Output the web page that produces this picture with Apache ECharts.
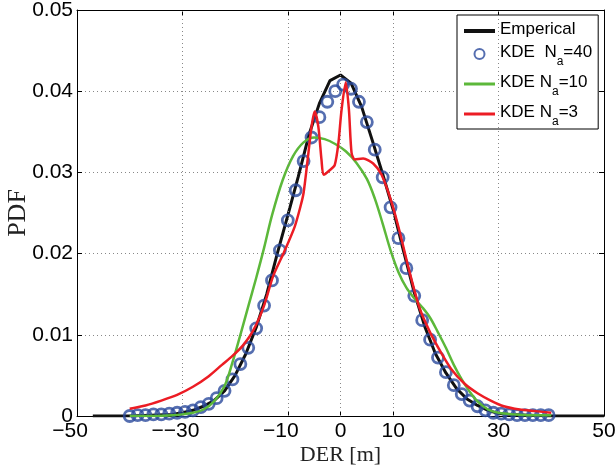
<!DOCTYPE html>
<html><head><meta charset="utf-8">
<script src="https://cdn.jsdelivr.net/npm/echarts@6/dist/echarts.min.js"></script>
<style>html,body{margin:0;padding:0;background:#fff}#c{width:616px;height:469px}</style>
</head><body><div id="c"></div>
<script>
const xTicks = [-50, -30, -10, 0, 10, 30, 50];
const xTickLabels = ['\u221250', '\u2212\u221230', '\u221210', '0', '10', '30', '50'];
const xGrid = [-30, -10, 0, 10, 30];
const yTicks = [0, 0.01, 0.02, 0.03, 0.04, 0.05];
const seriesNames = ['Emperical', 'KDE  N_a=40', 'KDE N_a=10', 'KDE N_a=3'];

const empX = [-47,-40,-36,-32,-30,-28,-26,-24,-22,-20,-18,-16,-14,-12,-10,-8,-6,-4,-2,0,2,4,6,8,10,12,14,16,18,20,22,24,26,28,30,32,36,40,50];
const empY = [0,0,0.0001,0.0002,0.0004,0.0007,0.0012,0.0019,0.0031,0.0050,0.0076,0.0109,0.0150,0.0200,0.0247,0.0295,0.0346,0.0385,0.0413,0.0420,0.0410,0.0381,0.0340,0.0298,0.0254,0.0202,0.0152,0.0110,0.0077,0.0053,0.0034,0.0021,0.0013,0.0007,0.0003,0.0002,0.0001,0,0];

const kde40X = [-40,-38.5,-37,-35.5,-34,-32.5,-31,-29.5,-28,-26.5,-25,-23.5,-22,-20.5,-19,-17.5,-16,-14.5,-13,-11.5,-10,-8.5,-7,-5.5,-4,-2.5,-1,0.5,2,3.5,5,6.5,8,9.5,11,12.5,14,15.5,17,18.5,20,21.5,23,24.5,26,27.5,29,30.5,32,33.5,35,36.5,38,39.5];
const kde40Y = [0.0000,0.0001,0.0001,0.0002,0.0002,0.0003,0.0004,0.0005,0.0007,0.0011,0.0015,0.0022,0.0031,0.0045,0.0064,0.0084,0.0108,0.0136,0.0167,0.0204,0.0241,0.0278,0.0314,0.0343,0.0368,0.0387,0.0400,0.0408,0.0403,0.0387,0.0362,0.0328,0.0294,0.0257,0.0219,0.0182,0.0148,0.0118,0.0094,0.0072,0.0054,0.0038,0.0027,0.0019,0.0012,0.0007,0.0004,0.0003,0.0002,0.0001,0.0001,0.0001,0.0001,0.0001];

const kde10X = [-40,-36,-32,-30,-28,-26,-24,-22,-20.5,-19,-17.5,-16,-14.5,-13,-11,-9,-7,-5,-3,-1,1,3,5,6.5,8,9.5,11,12.5,14,15.5,17,18.5,20,21.5,23,24.5,26,28,30,33,36,40];
const kde10Y = [0,0,0.0001,0.0002,0.0004,0.0008,0.0018,0.0037,0.0066,0.0100,0.0135,0.0170,0.0207,0.0247,0.0290,0.0320,0.0337,0.0343,0.0341,0.0335,0.0326,0.0312,0.0292,0.0268,0.0237,0.0204,0.0177,0.0158,0.0145,0.0134,0.0121,0.0103,0.0084,0.0063,0.0045,0.0030,0.0018,0.0008,0.0004,0.0002,0.0001,0.0001];

const kde3X = [-40,-37,-34,-31,-28,-25,-22.5,-20.5,-18.5,-16.5,-14.5,-12.8,-10.7,-8.7,-7.6,-7.0,-6.3,-5.5,-4.9,-4.2,-3.6,-3.2,-2.0,-1.1,-0.4,0.2,1.0,1.6,2.1,2.7,4.3,6.2,7.8,9.7,11.3,13,15,17,19,21,23.5,26,28.5,31,34,37,40];
const kde3Y = [0.0009,0.0013,0.0019,0.0026,0.0036,0.0049,0.0063,0.0074,0.0087,0.0106,0.0136,0.0172,0.0202,0.0233,0.0258,0.0275,0.0312,0.0356,0.0375,0.0356,0.0315,0.0297,0.0303,0.0309,0.0336,0.0377,0.0411,0.0377,0.0324,0.0316,0.0317,0.0311,0.0297,0.0263,0.0225,0.0180,0.0133,0.0103,0.0079,0.0058,0.0040,0.0028,0.0019,0.0012,0.0008,0.0006,0.0004];

const pairs = (xs, ys) => xs.map((x, i) => [x, ys[i]]);
const chart = echarts.init(document.getElementById('c'), null, {renderer: 'canvas'});
const sans = 'Liberation Sans, Arial, sans-serif';
const serif = 'Liberation Serif, Times New Roman, serif';
const gridStyle = {color: '#888', type: [1, 3], width: 1};
const lineIcon4 = 'path://M0,0h31v0.01h-31z M0,3h31v4h-31z M0,9.99h31v0.01h-31z';
const lineIcon3 = 'path://M0,0h31v0.01h-31z M0,3.5h31v3h-31z M0,9.99h31v0.01h-31z';
const blue = '#2b4a9c';

chart.setOption({
  animation: false,
  backgroundColor: '#fff',
  grid: {left: 77, right: 12, top: 10, bottom: 53, containLabel: false, outerBoundsMode: 'none'},
  legend: {
    left: 457, top: 15, orient: 'vertical',
    padding: [6, 6, 1, 7], itemGap: 6, itemWidth: 31, itemHeight: 10,
    backgroundColor: '#fff', borderColor: '#000', borderWidth: 1,
    data: [
      {name: seriesNames[0], icon: lineIcon4},
      {name: seriesNames[1], icon: 'circle'},
      {name: seriesNames[2], icon: lineIcon3},
      {name: seriesNames[3], icon: lineIcon3}
    ],
    formatter: n => n.indexOf('_a') >= 0 ? '{m|' + n.replace('_a', '}{sub|a}{m|') + '}' : '{m|' + n + '}',
    textStyle: {
      fontFamily: sans, fontSize: 17, color: '#000',
      rich: {
        m: {fontFamily: sans, fontSize: 17, color: '#000', lineHeight: 20, verticalAlign: 'top'},
        sub: {fontFamily: sans, fontSize: 12, color: '#000', lineHeight: 12, padding: [12, 0, 0, 0], verticalAlign: 'top'}
      }
    }
  },
  xAxis: [{
    type: 'value', min: -50, max: 50, interval: 10, position: 'bottom',
    name: 'DER [m]', nameLocation: 'middle', nameGap: 28, nameMoveOverlap: false,
    nameTextStyle: {fontFamily: serif, fontSize: 22, color: '#222'},
    axisLine: {show: true, onZero: false, lineStyle: {color: '#000', width: 1}},
    axisTick: {show: true, inside: true, length: 5, customValues: xTicks, lineStyle: {color: '#000'}},
    axisLabel: {
      show: true, customValues: xTicks, margin: 5, fontFamily: sans, fontSize: 21, color: '#000',
      formatter: v => {
        const i = xTicks.indexOf(v);
        const s = i >= 0 ? xTickLabels[i] : '';
        return s.charAt(0) === '\u2212' ? s + '{pad| }' : s;
      },
      rich: {pad: {width: 14}}
    },
    splitLine: {show: false}
  }, {
    type: 'value', min: -50, max: 50, interval: 10, position: 'top',
    axisLine: {show: true, onZero: false, lineStyle: {color: '#000', width: 1}},
    axisTick: {show: true, inside: true, length: 5, customValues: xTicks, lineStyle: {color: '#000'}},
    axisLabel: {show: false},
    splitLine: {show: false}
  }],
  yAxis: [{
    type: 'value', min: 0, max: 0.05, interval: 0.01, position: 'left',
    name: 'PDF', nameLocation: 'middle', nameGap: 46, nameMoveOverlap: false,
    nameTextStyle: {fontFamily: serif, fontSize: 26, color: '#222'},
    axisLine: {show: true, onZero: false, lineStyle: {color: '#000', width: 1}},
    axisTick: {show: true, inside: true, length: 5, lineStyle: {color: '#000'}},
    axisLabel: {show: true, margin: 4, fontFamily: sans, fontSize: 21, color: '#000',
      formatter: v => String(+v.toFixed(2))},
    splitLine: {show: true, lineStyle: gridStyle}
  }, {
    type: 'value', min: 0, max: 0.05, interval: 0.01, position: 'right',
    axisLine: {show: true, onZero: false, lineStyle: {color: '#000', width: 1}},
    axisTick: {show: true, inside: true, length: 5, lineStyle: {color: '#000'}},
    axisLabel: {show: false},
    splitLine: {show: false}
  }],
  series: [
    {name: 'grid', type: 'line', data: [], z: 1, silent: true,
     markLine: {silent: true, symbol: 'none', label: {show: false}, animation: false,
       lineStyle: gridStyle, data: xGrid.map(v => ({xAxis: v}))}},
    {name: seriesNames[0], type: 'line', data: pairs(empX, empY), symbol: 'none', smooth: false,
     lineStyle: {color: '#111', width: 3}, itemStyle: {color: '#111'}, z: 2},
    {name: seriesNames[1], type: 'scatter', data: pairs(kde40X, kde40Y), symbol: 'circle', symbolSize: 11,
     itemStyle: {color: 'rgba(0,0,0,0)', borderColor: blue, borderWidth: 2.8}, z: 3},
    {name: seriesNames[2], type: 'line', data: pairs(kde10X, kde10Y), symbol: 'none', smooth: 0.35,
     lineStyle: {color: '#5cb83a', width: 2.5}, itemStyle: {color: '#5cb83a'}, z: 4},
    {name: seriesNames[3], type: 'line', data: pairs(kde3X, kde3Y), symbol: 'none', smooth: 0.25,
     lineStyle: {color: '#ec1c24', width: 2.5}, itemStyle: {color: '#ec1c24'}, z: 5}
  ]
});
</script>
</body></html>
